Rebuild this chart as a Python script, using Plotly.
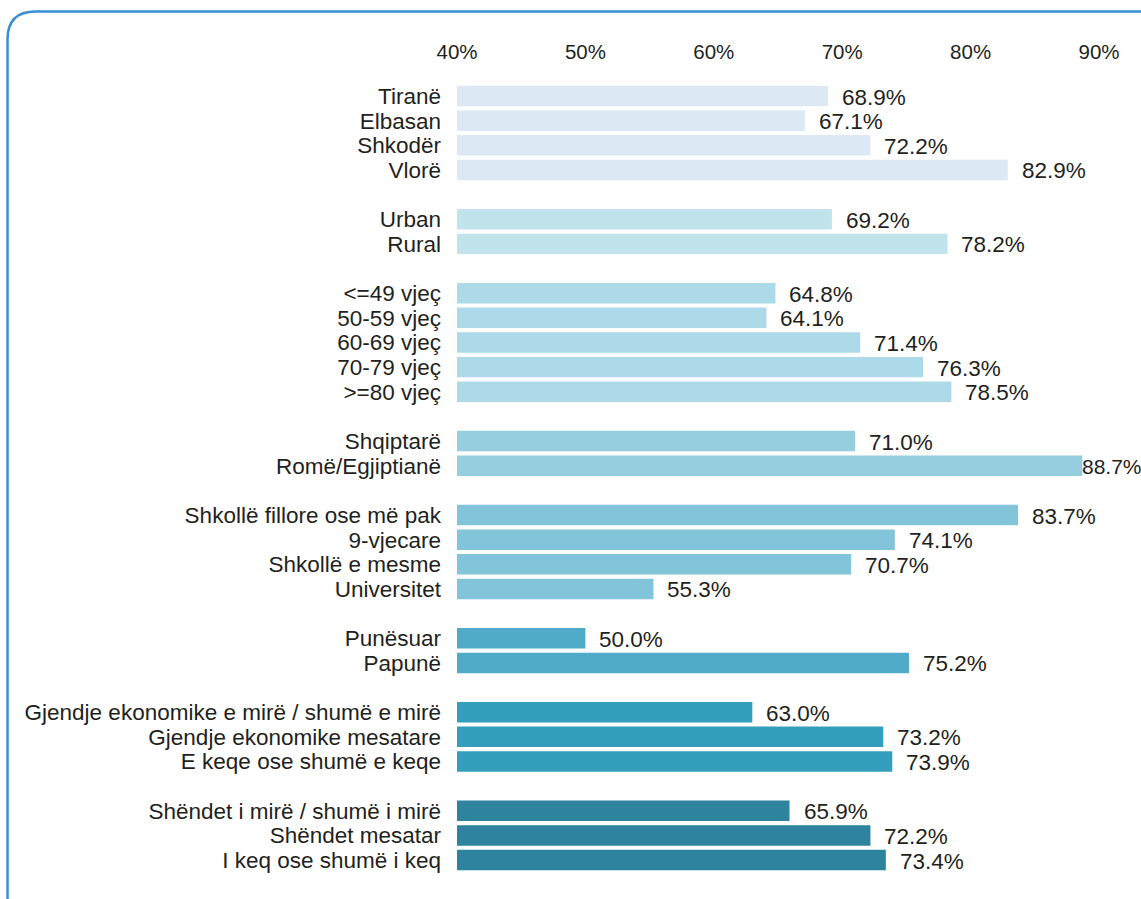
import plotly.graph_objects as go

# Share of respondents (%) by category, grouped as in the survey breakdown
groups = [
    ["Tiranë", "Elbasan", "Shkodër", "Vlorë"],
    ["Urban", "Rural"],
    ["<=49 vjeç", "50-59 vjeç", "60-69 vjeç", "70-79 vjeç", ">=80 vjeç"],
    ["Shqiptarë", "Romë/Egjiptianë"],
    ["Shkollë fillore ose më pak", "9-vjecare", "Shkollë e mesme", "Universitet"],
    ["Punësuar", "Papunë"],
    ["Gjendje ekonomike e mirë / shumë e mirë", "Gjendje ekonomike mesatare",
     "E keqe ose shumë e keqe"],
    ["Shëndet i mirë / shumë i mirë", "Shëndet mesatar", "I keq ose shumë i keq"],
]
values = [
    [68.9, 67.1, 72.2, 82.9],
    [69.2, 78.2],
    [64.8, 64.1, 71.4, 76.3, 78.5],
    [71.0, 88.7],
    [83.7, 74.1, 70.7, 55.3],
    [50.0, 75.2],
    [63.0, 73.2, 73.9],
    [65.9, 72.2, 73.4],
]
group_colors = ["#dce9f5", "#c1e3ec", "#acdae8", "#96cddf",
                "#82c5da", "#50abc9", "#339fbd", "#2e849e"]
x_ticks = [40, 50, 60, 70, 80, 90]

W, H = 1141, 899
ML, MR, MT, MB = 457, 4, 70, 15
X_MIN, X_MAX = 40, 92.96
TEXT = "#231f20"
FONT = "Liberation Sans, Arial, sans-serif"
LABEL_SIZE = 22.5
TICK_SIZE = 20.5

fig = go.Figure()
rows, labels = [], []
row = 0
annotations = []
for names, vals, col in zip(groups, values, group_colors):
    ys = list(range(row, row + len(names)))
    fig.add_trace(go.Bar(
        x=[v - X_MIN for v in vals], base=X_MIN, y=ys, orientation="h",
        width=0.83, marker=dict(color=col, line=dict(width=0)),
        hoverinfo="skip", showlegend=False,
    ))
    for y, v in zip(ys, vals):
        # the longest bar leaves little room, so its label sits tight to the bar
        near_edge = v > 88
        annotations.append(dict(
            x=v, y=y, xref="x", yref="y", text=f"{v:.1f}%",
            showarrow=False, xanchor="left", yanchor="middle",
            xshift=-2 if near_edge else 12, yshift=-1,
            font=dict(size=21 if near_edge else LABEL_SIZE,
                      color=TEXT, family=FONT),
        ))
    rows += ys
    labels += names
    row += len(names) + 1

fig.update_layout(
    width=W, height=H,
    margin=dict(l=ML, r=MR, t=MT, b=MB),
    paper_bgcolor="white", plot_bgcolor="white",
    font=dict(family=FONT, size=LABEL_SIZE, color=TEXT),
    barmode="overlay",
    annotations=annotations,
    xaxis=dict(
        range=[X_MIN, X_MAX], side="top", tickvals=x_ticks,
        ticktext=[f"{t}%" for t in x_ticks], showgrid=False, zeroline=False,
        showline=False, ticks="", ticklabelstandoff=6,
        tickfont=dict(size=TICK_SIZE, color=TEXT),
    ),
    yaxis=dict(
        range=[31.97, -1.055], tickvals=rows, ticktext=labels,
        showgrid=False, zeroline=False, showline=False, ticks="",
        ticklabelstandoff=15, tickfont=dict(size=LABEL_SIZE, color=TEXT),
    ),
)

# Rounded frame around the chart, given in pixels and mapped to paper units
pw, ph = W - ML - MR, H - MT - MB


def px(x):
    return (x - ML) / pw


def py(y):
    return (H - MB - y) / ph


x0, y0, x1, y1, r = 7.5, 11.5, 1170, 930, 28
path = (
    f"M {px(x0)},{py(y1)} L {px(x0)},{py(y0 + r)} "
    f"Q {px(x0)},{py(y0)} {px(x0 + r)},{py(y0)} "
    f"L {px(x1 - r)},{py(y0)} Q {px(x1)},{py(y0)} {px(x1)},{py(y0 + r)} "
    f"L {px(x1)},{py(y1)}"
)
fig.add_shape(type="path", xref="paper", yref="paper", path=path,
              line=dict(color="#3a8fd0", width=2.5), layer="above")

fig.write_html("out.html")
